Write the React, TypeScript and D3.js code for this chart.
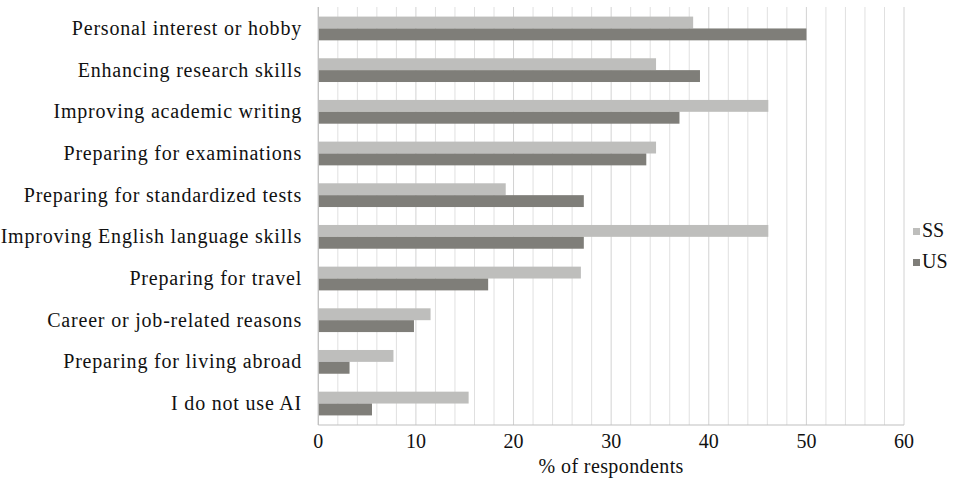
import React from "react";
import * as d3 from "d3";

// Reasons for using AI, share of respondents per group
const categories = [
  "Personal interest or hobby",
  "Enhancing research skills",
  "Improving academic writing",
  "Preparing for examinations",
  "Preparing for standardized tests",
  "Improving English language skills",
  "Preparing for travel",
  "Career or job-related reasons",
  "Preparing for living abroad",
  "I do not use AI",
];
const ssValues = [38.4, 34.6, 46.1, 34.6, 19.2, 46.1, 26.9, 11.5, 7.7, 15.4];
const usValues = [50.0, 39.1, 37.0, 33.6, 27.2, 27.2, 17.4, 9.8, 3.2, 5.5];
const seriesNames = ["SS", "US"];
const seriesColors = ["#bebebc", "#7f7e79"];
const xTicks = [0, 10, 20, 30, 40, 50, 60];
const xTitle = "% of respondents";

const W = 957;
const H = 483;
const plot = { left: 318.3, right: 904, top: 7, bottom: 425 };
const FONT = "Liberation Serif, DejaVu Serif, serif";
const FS = 20;

export default function App() {
  const x = d3.scaleLinear().domain([0, 60]).range([plot.left, plot.right]);
  const y = d3
    .scaleBand<string>()
    .domain(categories)
    .range([plot.top, plot.bottom])
    .paddingInner(0.43)
    .paddingOuter(0.23);
  const sub = d3.scaleBand<string>().domain(seriesNames).range([0, y.bandwidth()]);
  const step = y.step();
  const series = [ssValues, usValues];
  const grid = d3.range(0, 61, 2);
  const textStyle = { fontFamily: FONT, fontSize: FS };

  return (
    <svg
      width={W}
      height={H}
      style={{ position: "fixed", left: 0, top: 0, background: "#fff" }}
    >
      {/* vertical gridlines */}
      {grid.map((g) => (
        <line
          key={g}
          x1={x(g)}
          x2={x(g)}
          y1={plot.top}
          y2={plot.bottom}
          stroke={g % 10 === 0 ? "#d2d2d2" : "#e0e0e0"}
          strokeWidth={1}
        />
      ))}

      {/* bars */}
      {categories.map((c, i) => (
        <g key={c} transform={`translate(0,${y(c)})`}>
          {seriesNames.map((s, j) => (
            <rect
              key={s}
              x={x(0)}
              y={sub(s)}
              width={x(series[j][i]) - x(0)}
              height={sub.bandwidth()}
              fill={seriesColors[j]}
            />
          ))}
        </g>
      ))}

      {/* axes */}
      <line x1={plot.left} x2={plot.left} y1={plot.top} y2={plot.bottom} stroke="#bfbfbf" strokeWidth={1.2} />
      <line x1={plot.left} x2={plot.right} y1={plot.bottom} y2={plot.bottom} stroke="#bfbfbf" strokeWidth={1.2} />

      {/* category labels */}
      {categories.map((c) => (
        <text
          key={c}
          x={302}
          y={(y(c) as number) - y.paddingOuter() * step + step / 2 + 7}
          textAnchor="end"
          style={{ ...textStyle, letterSpacing: "0.8px" }}
          fill="#111"
        >
          {c}
        </text>
      ))}

      {/* x tick labels */}
      {xTicks.map((t) => (
        <text key={t} x={x(t)} y={448} textAnchor="middle" style={textStyle} fill="#111">
          {t}
        </text>
      ))}
      <text
        x={(plot.left + plot.right) / 2}
        y={473}
        textAnchor="middle"
        style={{ ...textStyle, letterSpacing: "0.4px" }}
        fill="#111"
      >
        {xTitle}
      </text>

      {/* legend */}
      {seriesNames.map((s, j) => (
        <g key={s} transform={`translate(913,${228 + j * 31})`}>
          <rect x={0} y={0} width={7} height={7} fill={seriesColors[j]} />
          <text x={9} y={8.5} style={textStyle} fill="#111">
            {s}
          </text>
        </g>
      ))}
    </svg>
  );
}
